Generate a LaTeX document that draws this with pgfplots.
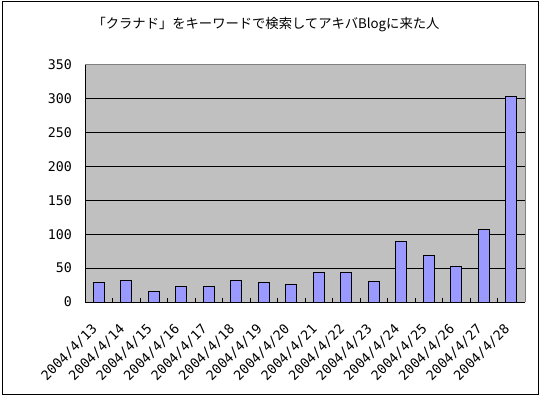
\documentclass[border=0pt]{standalone}
\usepackage{pgfplots}
\pgfplotsset{compat=1.18}
\usepackage{fontspec}
\newfontfamily\jpfont{Noto Sans CJK JP}
\newfontfamily\numfont{DejaVu Sans Mono}
\definecolor{plotgray}{HTML}{C0C0C0}
\definecolor{barblue}{HTML}{9999FF}
\definecolor{bordergray}{HTML}{808080}
\begin{document}
\begin{tikzpicture}[x=1pt,y=1pt]
\useasboundingbox (0,0) rectangle (543,396);
\fill[white] (0,0) rectangle (543,396);
\draw[black, line width=1pt] (2.5,2) rectangle (538.5,394);
\node[font=\jpfont\fontsize{13.3}{15}\selectfont] at (266,371) {「クラナド」をキーワードで検索してアキバBlogに来た人};
\begin{axis}[
  at={(85pt,94pt)}, anchor=south west, scale only axis,
  width=440pt, height=237pt,
  xmin=-0.5, xmax=15.5, ymin=0, ymax=350,
  ytick={0,50,...,350},
  xtick={0,...,15},
  xticklabels={2004/4/13,2004/4/14,2004/4/15,2004/4/16,2004/4/17,2004/4/18,2004/4/19,2004/4/20,2004/4/21,2004/4/22,2004/4/23,2004/4/24,2004/4/25,2004/4/26,2004/4/27,2004/4/28},
  minor xtick={-0.5,0.5,...,15.5},
  major tick length=0pt, minor tick length=4pt, tick align=inside,
  axis x line*=bottom, axis y line*=left,
  axis line style={line width=1pt, -},
  ymajorgrids, major grid style={black, line width=1pt},
  axis background/.style={fill=plotgray},
  tick style={black, line width=1pt},
  /pgf/number format/assume math mode=true,
  yticklabel style={font=\numfont\fontsize{13.3}{15}\selectfont, anchor=east, inner sep=0pt, xshift=-13pt},
  xticklabel style={font=\numfont\fontsize{13.3}{15}\selectfont, anchor=north east, inner sep=0pt, xshift=-8pt, yshift=-21pt, rotate=45},
  clip=false,
]
\addplot[ybar, bar width=11pt, fill=barblue, draw=black, line width=1pt] coordinates {
(0,29) (1,32) (2,16) (3,23) (4,23) (5,32) (6,29) (7,26)
(8,43) (9,43) (10,31) (11,90) (12,68) (13,53) (14,107) (15,303)
};
\draw[bordergray, line width=1pt] (rel axis cs:0,1) -- (rel axis cs:1,1) -- (rel axis cs:1,0);
\end{axis}
\end{tikzpicture}
\end{document}
